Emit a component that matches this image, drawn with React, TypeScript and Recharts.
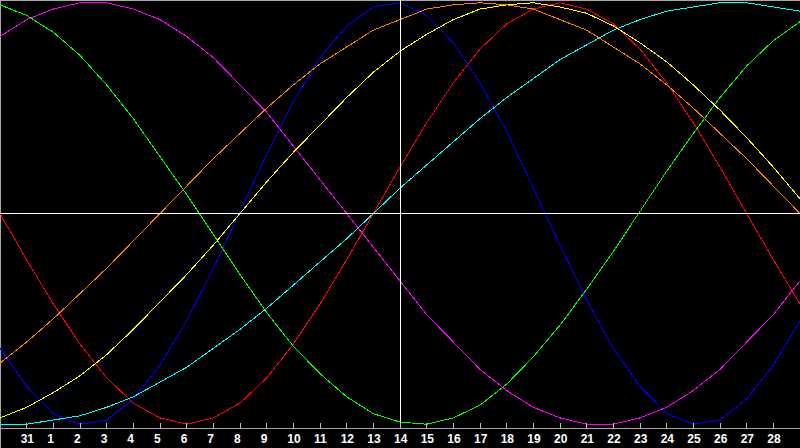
import React from 'react';
import { LineChart, Line, XAxis, YAxis, ReferenceLine } from 'recharts';

// day index 0..30, label of each day (index 0 = 30th of previous month)
const dayLabels = [
  '30', '31', '1', '2', '3', '4', '5', '6', '7', '8', '9', '10', '11', '12', '13', '14',
  '15', '16', '17', '18', '19', '20', '21', '22', '23', '24', '25', '26', '27', '28', '29',
];
const tickIndexes = [1, 2, 3, 4, 5, 6, 7, 8, 9, 10, 11, 12, 13, 14, 15, 16, 17, 18, 19, 20, 21, 22, 23, 24, 25, 26, 27, 28, 29];
const todayIndex = 15;

const red = [0, -22, -43, -62, -78, -90, -97, -100, -97, -90, -78, -62, -43, -22, 0, 22, 43, 62, 78, 90, 97, 100, 97, 90, 78, 62, 43, 22, 0, -22, -43];
const blue = [-64, -82, -95, -100, -98, -88, -72, -51, -26, 1, 28, 53, 74, 89, 98, 100, 94, 81, 62, 39, 12, -15, -41, -64, -82, -95, -100, -98, -88, -72, -51];
const green = [99, 94, 86, 75, 61, 45, 27, 9, -10, -29, -47, -63, -76, -87, -95, -99, -100, -97, -91, -81, -68, -53, -36, -18, 1, 20, 38, 55, 70, 82, 91];
const magenta = [84, 92, 97, 100, 100, 97, 92, 84, 74, 61, 48, 32, 16, 0, -16, -32, -48, -61, -74, -84, -92, -97, -100, -100, -97, -92, -84, -74, -61, -48, -32];
const cyan = [-100, -100, -98, -96, -92, -87, -80, -73, -64, -55, -45, -34, -23, -12, 0, 12, 23, 34, 45, 55, 64, 73, 80, 87, 92, 96, 98, 100, 100, 98, 96];
const yellow = [-97, -92, -85, -77, -67, -55, -42, -29, -15, 0, 15, 29, 42, 55, 67, 77, 85, 92, 97, 99, 100, 98, 95, 89, 81, 72, 61, 49, 36, 22, 7];
const orange = [-71, -61, -50, -38, -26, -13, 0, 13, 26, 38, 50, 61, 71, 79, 87, 92, 97, 99, 100, 99, 97, 92, 87, 79, 71, 61, 50, 38, 26, 13, 0];

const data = dayLabels.map((label, i) => ({
  i,
  label,
  red: red[i],
  blue: blue[i],
  green: green[i],
  magenta: magenta[i],
  cyan: cyan[i],
  yellow: yellow[i],
  orange: orange[i],
}));

const series = [
  { key: 'red', color: '#ff0000' },
  { key: 'blue', color: '#0000ff' },
  { key: 'green', color: '#00ff00' },
  { key: 'magenta', color: '#ff00ff' },
  { key: 'cyan', color: '#00ffff' },
  { key: 'yellow', color: '#ffff00' },
  { key: 'orange', color: '#ff8000' },
];

// tick mark pointing up into the plot, label left-aligned just before the tick
const DayTick = ({ x, y, payload }: any) => (
  <g>
    <line x1={x} x2={x} y1={y - 5} y2={y} stroke="#c0c0c0" />
    <text
      x={x - 6}
      y={y + 15}
      textAnchor="start"
      fill="#ffffff"
      fontSize={12}
      fontWeight="bold"
      fontFamily="'Liberation Sans', Arial, sans-serif"
    >
      {dayLabels[payload.value]}
    </text>
  </g>
);

export default function App() {
  return (
    <div
      style={{
        position: 'fixed',
        top: 0,
        left: 0,
        width: 800,
        height: 448,
        background: '#000000',
        boxShadow: 'inset 1px 1px 0 #a8a8a8',
      }}
    >
      <style>{'.recharts-surface path, .recharts-surface line { shape-rendering: crispEdges; }'}</style>
      <LineChart width={800} height={448} data={data} margin={{ top: 0, right: 0, left: 0, bottom: 0 }}>
        <XAxis
          dataKey="i"
          type="number"
          domain={[0, 30]}
          ticks={tickIndexes}
          interval={0}
          height={20}
          stroke="#a8a8a8"
          tickLine={false}
          tickSize={0}
          tickMargin={0}
          tick={<DayTick />}
        />
        <YAxis hide domain={[-101.8, 101.3]} allowDataOverflow />
        {series.map((s) => (
          <Line
            key={s.key}
            type="linear"
            dataKey={s.key}
            stroke={s.color}
            strokeWidth={1}
            dot={false}
            activeDot={false}
            isAnimationActive={false}
          />
        ))}
        <ReferenceLine y={0} stroke="#ffffff" strokeWidth={1} />
        <ReferenceLine x={todayIndex} stroke="#ffffff" strokeWidth={1} />
      </LineChart>
    </div>
  );
}
